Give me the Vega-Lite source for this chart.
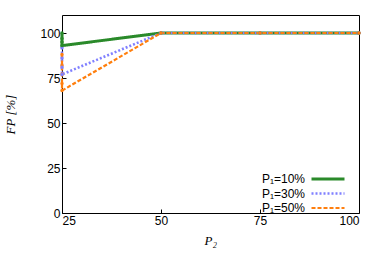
{
  "$schema": "https://vega.github.io/schema/vega-lite/v6.json",
  "width": 297,
  "height": 198,
  "autosize": {"type": "none"},
  "padding": {"left": 62, "top": 15, "right": 23, "bottom": 54},
  "background": "white",
  "config": {
    "view": {"stroke": "black", "strokeWidth": 1},
    "axis": {"labelFont": "Liberation Sans", "labelFontSize": 12, "labelColor": "black", "domain": false, "grid": false, "tickColor": "black", "tickSize": -4, "titleFont": "Liberation Serif", "titleFontStyle": "italic", "titleFontWeight": "normal", "titleFontSize": 13, "titleColor": "black"},
    "legend": {"padding": 0}
  },
  "data": {
    "values": [
      {"s": "P₁=10%", "i": 1, "x": 25, "y": 100},
      {"s": "P₁=10%", "i": 2, "x": 25, "y": 97},
      {"s": "P₁=10%", "i": 3, "x": 25, "y": 95},
      {"s": "P₁=10%", "i": 4, "x": 25, "y": 93},
      {"s": "P₁=10%", "i": 5, "x": 50, "y": 100},
      {"s": "P₁=10%", "i": 6, "x": 75, "y": 100},
      {"s": "P₁=10%", "i": 7, "x": 100, "y": 100},
      {"s": "P₁=30%", "i": 1, "x": 25, "y": 92},
      {"s": "P₁=30%", "i": 2, "x": 25, "y": 86},
      {"s": "P₁=30%", "i": 3, "x": 25, "y": 81},
      {"s": "P₁=30%", "i": 4, "x": 25, "y": 77},
      {"s": "P₁=30%", "i": 5, "x": 50, "y": 100},
      {"s": "P₁=30%", "i": 6, "x": 75, "y": 100},
      {"s": "P₁=30%", "i": 7, "x": 100, "y": 100},
      {"s": "P₁=50%", "i": 1, "x": 25, "y": 88},
      {"s": "P₁=50%", "i": 2, "x": 25, "y": 82},
      {"s": "P₁=50%", "i": 3, "x": 25, "y": 77},
      {"s": "P₁=50%", "i": 4, "x": 25, "y": 72},
      {"s": "P₁=50%", "i": 5, "x": 25, "y": 68},
      {"s": "P₁=50%", "i": 6, "x": 50, "y": 100},
      {"s": "P₁=50%", "i": 7, "x": 75, "y": 100},
      {"s": "P₁=50%", "i": 8, "x": 100, "y": 100}
    ]
  },
  "mark": {"type": "line", "clip": false, "point": {"filled": true, "size": 12}},
  "encoding": {
    "x": {"field": "x", "type": "quantitative", "title": "P₂", "scale": {"domain": [25, 100], "nice": false, "zero": false}, "axis": {"values": [25, 50, 75, 100], "labelPadding": 6, "titlePadding": 8, "titleX": 142, "titleAnchor": "start"}},
    "y": {"field": "y", "type": "quantitative", "title": "FP [%]", "scale": {"domain": [0, 110], "nice": false}, "axis": {"values": [0, 25, 50, 75, 100], "labelPadding": 6, "titlePadding": 22}},
    "order": {"field": "i", "type": "quantitative"},
    "color": {"field": "s", "type": "nominal", "scale": {"domain": ["P₁=10%", "P₁=30%", "P₁=50%"], "range": ["#2a8a2a", "#8080ff", "#ff7f0e"]},
      "legend": {"title": null, "orient": "none", "legendX": 259, "legendY": 157, "symbolType": "M-3,0H3", "symbolSize": 121, "symbolStrokeWidth": 2.8, "labelAlign": "right", "labelOffset": -30, "labelFont": "Liberation Sans", "labelFontSize": 12, "labelColor": "black", "rowPadding": 1.5, "labelLimit": 0}},
    "strokeDash": {"field": "s", "type": "nominal", "scale": {"domain": ["P₁=10%", "P₁=30%", "P₁=50%"], "range": [[1, 0], [2, 2], [4, 2]]}, "legend": null},
    "strokeWidth": {"field": "s", "type": "nominal", "scale": {"domain": ["P₁=10%", "P₁=30%", "P₁=50%"], "range": [3, 2.2, 2.5]}, "legend": null}
  }
}
